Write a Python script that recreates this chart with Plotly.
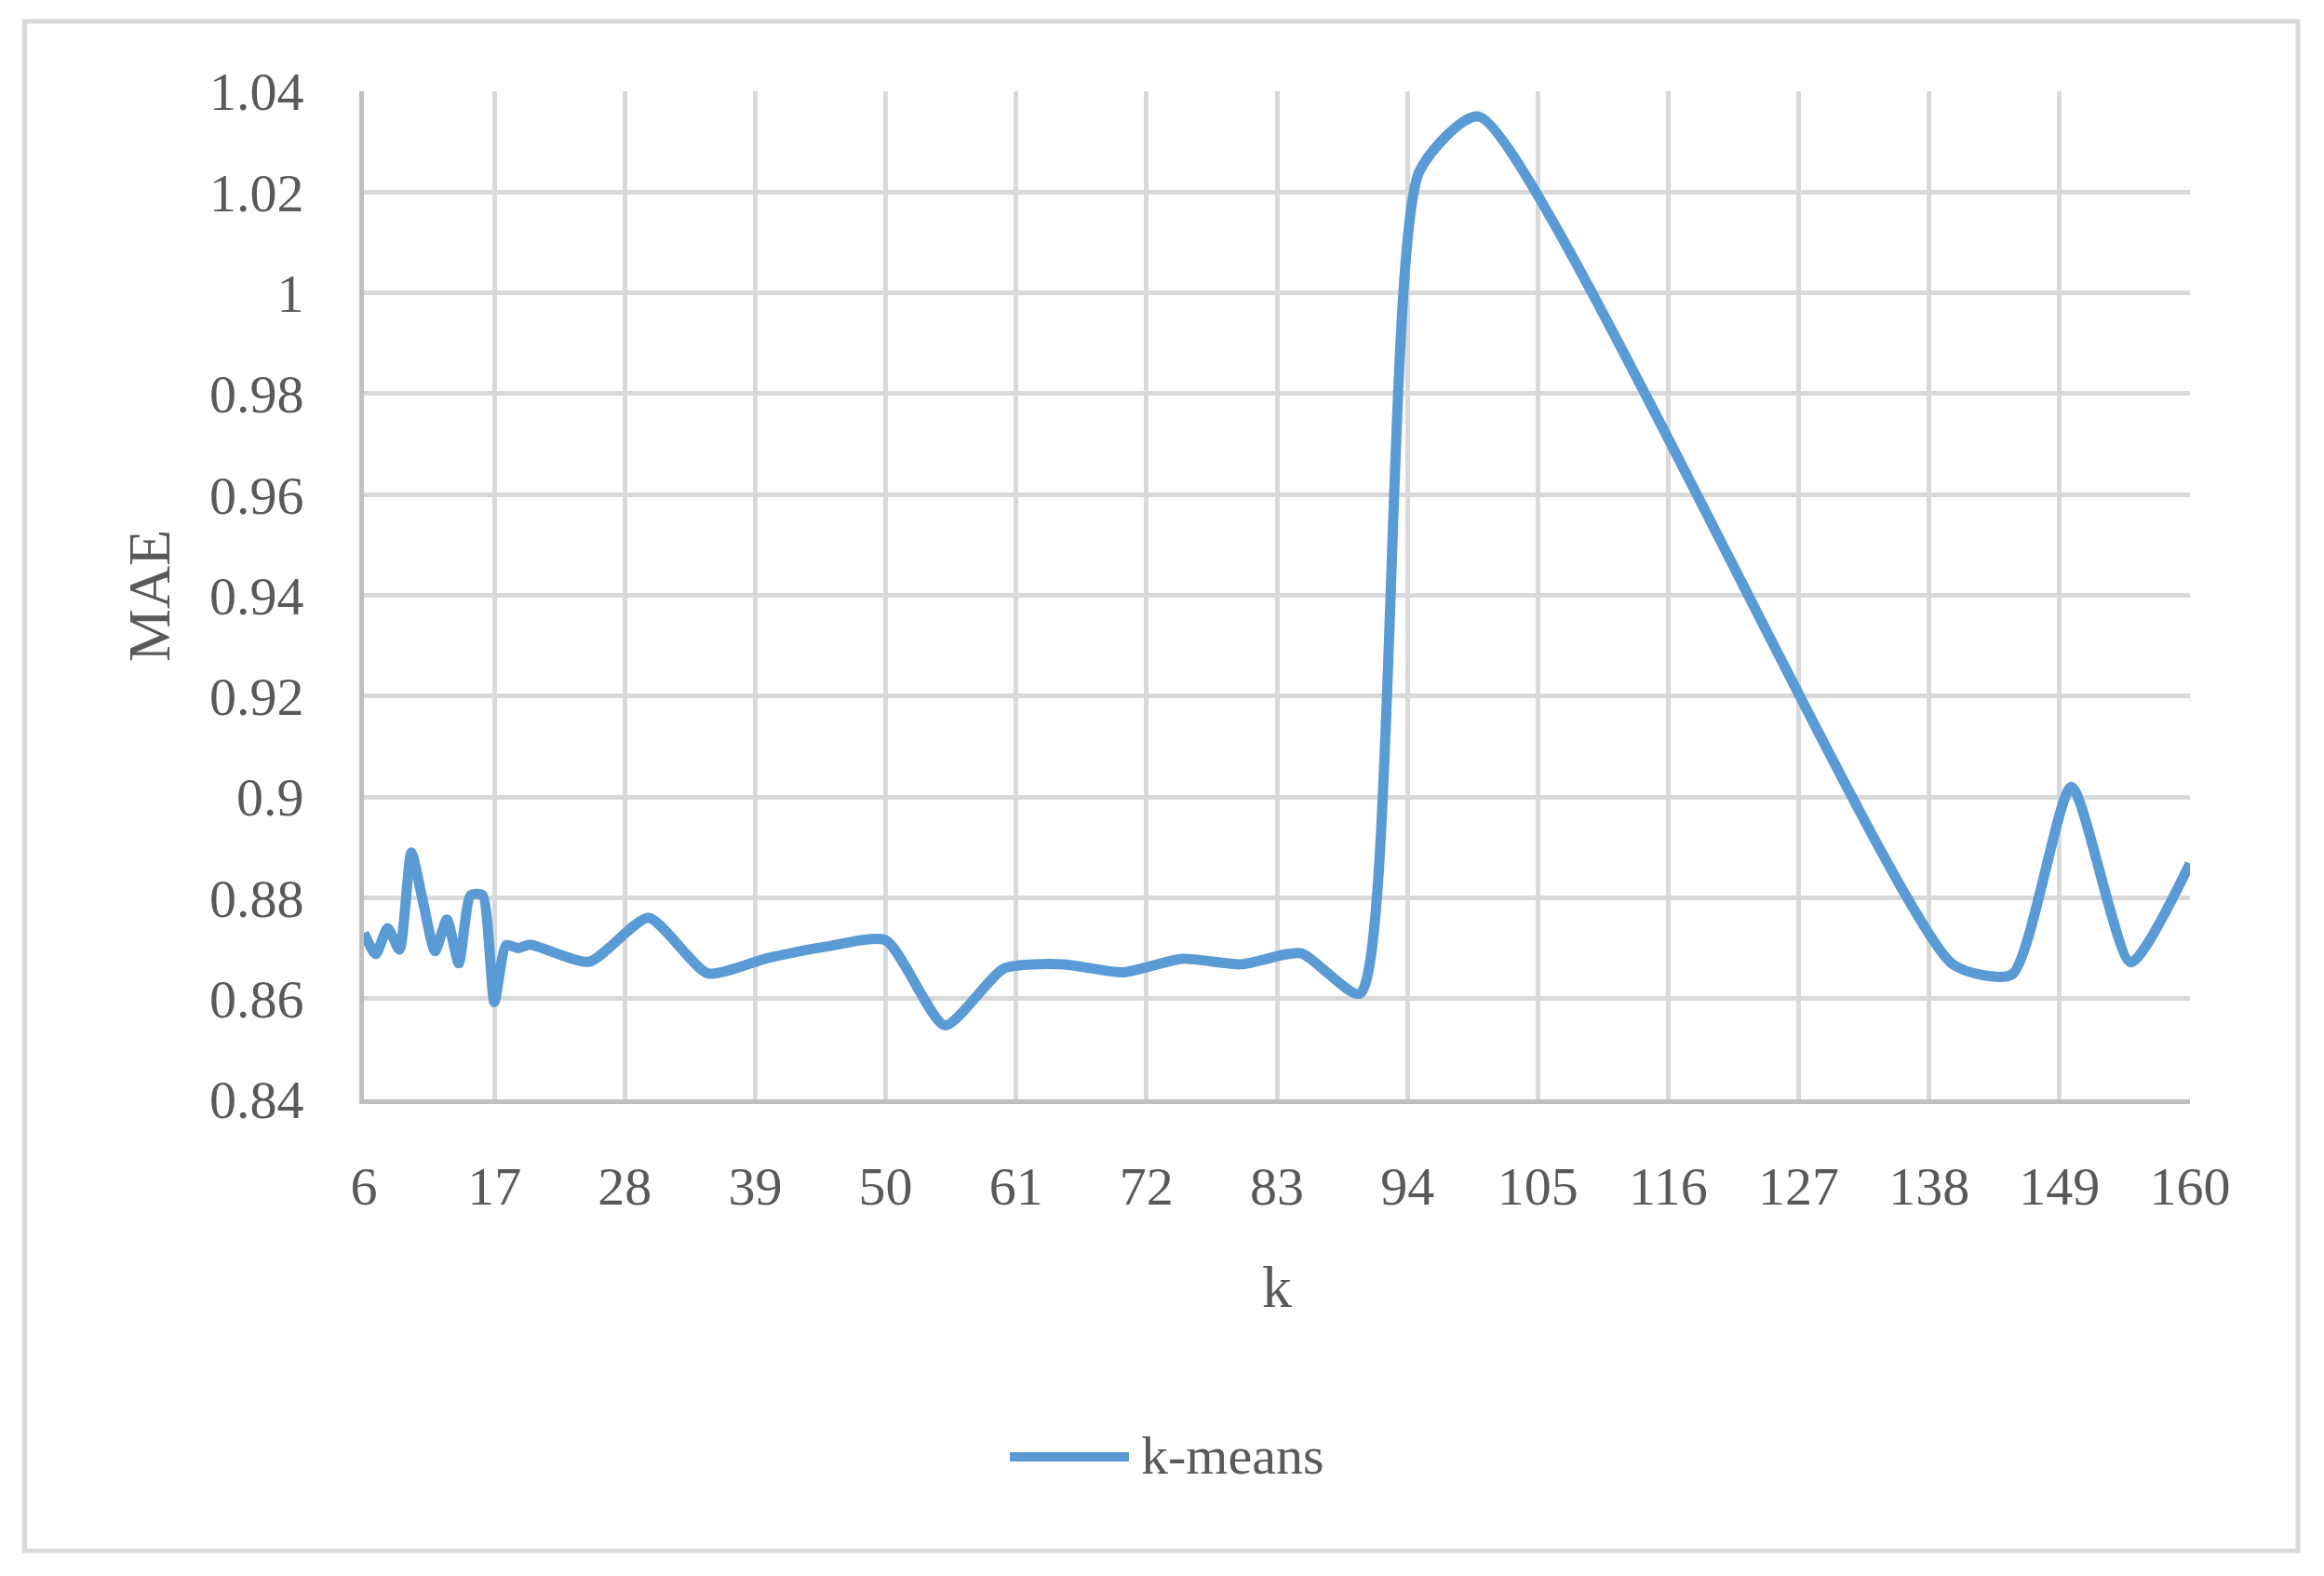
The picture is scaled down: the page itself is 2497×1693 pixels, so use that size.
import plotly.graph_objects as go

# ---- data ----
k_values = [6, 7, 8, 9, 10, 11, 12, 13, 14, 15, 16, 17, 18, 19, 20,
            25, 30, 35, 40, 45, 50, 55, 60, 65, 70, 75, 80, 85, 90,
            95, 100, 140, 145, 150, 155, 160]
mae_kmeans = [0.8730, 0.8688, 0.8740, 0.8697, 0.8890, 0.8790, 0.8694, 0.8757,
              0.8670, 0.8805, 0.8805, 0.8593, 0.8706, 0.8700, 0.8707,
              0.8673, 0.8760, 0.8650, 0.8680, 0.8703, 0.8716, 0.8547,
              0.8660, 0.8668, 0.8652, 0.8679, 0.8668, 0.8690, 0.8610,
              1.0240, 1.0350, 0.8668, 0.8648, 0.9020, 0.8672, 0.8868]
x_ticks = [6, 17, 28, 39, 50, 61, 72, 83, 94, 105, 116, 127, 138, 149, 160]
y_ticks = [0.84, 0.86, 0.88, 0.90, 0.92, 0.94, 0.96, 0.98, 1.00, 1.02, 1.04]
y_tick_labels = ["0.84", "0.86", "0.88", "0.9", "0.92", "0.94", "0.96",
                 "0.98", "1", "1.02", "1.04"]
series_name = "k-means"
x_title = "k"
y_title = "MAE"

# ---- layout geometry (pixels, page coords; page body has an 8px margin) ----
OFF = 8
W, H = 2497, 1693
L, R, T, B = 391 - OFF, 2353 - OFF, 98 - OFF, 1181 - OFF
PW, PH = R - L, B - T

def fx(px):
    return (px - OFF - L) / PW

def fy(py):
    return (B - (py - OFF)) / PH

FONT = "Liberation Serif, 'Times New Roman', serif"
TXT = "#595959"
BLUE = "#5B9BD5"
GRID = "#D9D9D9"
AXIS = "#BFBFBF"

fig = go.Figure()
fig.add_trace(go.Scatter(
    x=k_values, y=mae_kmeans, mode="lines", name=series_name,
    line=dict(color=BLUE, width=11, shape="spline", smoothing=0.6),
    showlegend=False,
))

fig.update_layout(
    width=W, height=H,
    margin=dict(l=L, r=W - R, t=T, b=H - B, pad=0),
    paper_bgcolor="white", plot_bgcolor="white",
    font=dict(family=FONT, color=TXT, size=58),
    xaxis=dict(range=[6, 160], tickvals=x_ticks, ticktext=[str(v) for v in x_ticks],
               showgrid=True, gridcolor=GRID, gridwidth=5,
               showline=True, linecolor=AXIS, linewidth=5,
               ticks="", ticklabelstandoff=38, zeroline=False,
               tickfont=dict(size=58, family=FONT, color=TXT)),
    yaxis=dict(range=[0.84, 1.04], tickvals=y_ticks, ticktext=y_tick_labels,
               showgrid=True, gridcolor=GRID, gridwidth=5,
               showline=True, linecolor=AXIS, linewidth=5,
               ticks="", ticklabelstandoff=48, zeroline=False,
               tickfont=dict(size=58, family=FONT, color=TXT)),
    shapes=[
        # outer chart border
        dict(type="rect", xref="paper", yref="paper",
             x0=fx(26.5), x1=fx(2469), y0=fy(1666), y1=fy(23),
             line=dict(color=GRID, width=5), fillcolor="rgba(0,0,0,0)", layer="below"),
        # legend sample line
        dict(type="line", xref="paper", yref="paper",
             x0=fx(1085), x1=fx(1213), y0=fy(1565), y1=fy(1565),
             line=dict(color=BLUE, width=10)),
    ],
    annotations=[
        dict(text=x_title, xref="paper", yref="paper", x=fx(1372), y=fy(1382),
             xanchor="center", yanchor="middle", showarrow=False,
             font=dict(size=64, family=FONT, color=TXT)),
        dict(text=y_title, xref="paper", yref="paper", x=fx(160), y=fy(640),
             xanchor="center", yanchor="middle", showarrow=False, textangle=-90,
             font=dict(size=64, family=FONT, color=TXT)),
        dict(text=series_name, xref="paper", yref="paper", x=fx(1224), y=fy(1563),
             xanchor="left", yanchor="middle", showarrow=False,
             font=dict(size=58, family=FONT, color=TXT)),
    ],
)

fig.write_html("out.html")
